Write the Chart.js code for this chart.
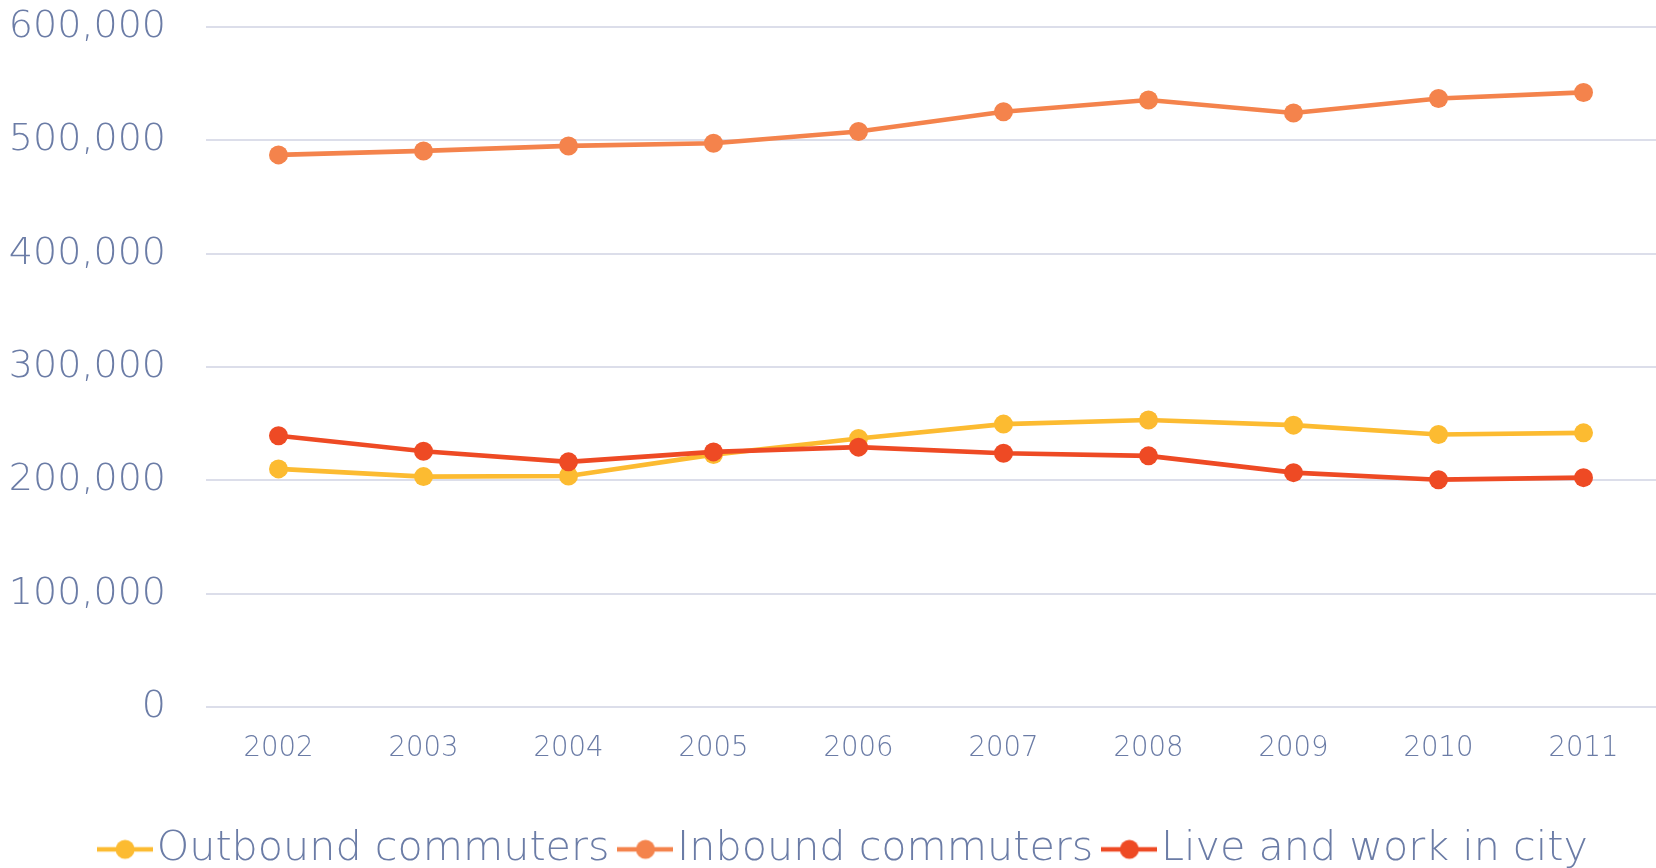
<!DOCTYPE html>
<html>
<head>
<meta charset="utf-8">
<script src="https://cdn.jsdelivr.net/npm/chart.js@4.4.1/dist/chart.umd.min.js"></script>
<style>
  html, body { margin: 0; padding: 0; background: #fff; overflow: hidden; }
  #wrap { width: 1656px; height: 880px; position: relative; }
</style>
</head>
<body>
<div id="wrap"><canvas id="chartId"></canvas></div>
<script>
// commuter counts per year

const years = ['2002', '2003', '2004', '2005', '2006', '2007', '2008', '2009', '2010', '2011'];
const outbound = [210200, 203400, 204000, 222800, 237000, 249700, 253300, 248800, 240500, 242000];
const inbound = [487200, 490700, 495100, 497500, 507800, 525200, 535600, 524100, 537000, 542300];
const liveWork = [239400, 225800, 216400, 225200, 229400, 224000, 221700, 206900, 200700, 202500];
const seriesNames = ['Outbound commuters', 'Inbound commuters', 'Live and work in city'];
const seriesColors = ['#fcbb31', '#f4834c', '#ee4a24'];

const textColor = '#6b7ca6';
const fontFamily = '"DejaVu Sans", sans-serif';

// legend marker: short line with a dot on it
function makeMarker(color) {
  const c = document.createElement('canvas');
  c.width = 56;
  c.height = 22;
  const g = c.getContext('2d');
  g.strokeStyle = color;
  g.lineWidth = 4.5;
  g.beginPath();
  g.moveTo(0, 11);
  g.lineTo(56, 11);
  g.stroke();
  g.fillStyle = color;
  g.beginPath();
  g.arc(28, 11, 9.5, 0, Math.PI * 2);
  g.fill();
  return c;
}
const markers = seriesColors.map(makeMarker);

function lineSet(i, values, order) {
  return {
    label: seriesNames[i],
    data: values,
    borderColor: seriesColors[i],
    backgroundColor: seriesColors[i],
    borderWidth: 4.6,
    pointRadius: 9.5,
    pointHoverRadius: 9.5,
    pointBorderWidth: 0,
    tension: 0,
    order: order
  };
}

// legend sits a little right of centre in the original
const legendShift = {
  id: 'legendShift',
  afterLayout(chart) {
    chart.legend.left += 23;
    chart.legend.right += 23;
  }
};

var chrt = document.getElementById('chartId').getContext('2d');
var chartId = new Chart(chrt, {
  type: 'line',
  data: {
    labels: years,
    datasets: [
      lineSet(0, outbound, 2),
      lineSet(1, inbound, 1),
      lineSet(2, liveWork, 0)
    ]
  },
  plugins: [legendShift],
  options: {
    responsive: true,
    maintainAspectRatio: false,
    animation: false,
    layout: { padding: 0, autoPadding: false },
    scales: {
      x: {
        offset: true,
        grid: { display: false, drawTicks: false, offset: true },
        border: { display: false },
        ticks: {
          color: textColor,
          font: { family: fontFamily, size: 27.5, weight: 200 },
          padding: 25
        },
        afterFit: s => {
          s.height += 13.5;
          s.paddingLeft = 0;
          s.paddingRight = 0;
        }
      },
      y: {
        min: 0,
        max: 600000,
        grid: { color: '#dcdeea', lineWidth: 2, drawTicks: false },
        border: { display: false },
        ticks: {
          stepSize: 100000,
          color: textColor,
          font: { family: fontFamily, size: 38, weight: 200 },
          padding: 40
        },
        afterFit: s => {
          s.width = 206;
          s.paddingTop = 27;
          s.paddingBottom = 0;
        }
      }
    },
    plugins: {
      tooltip: { enabled: false },
      legend: {
        position: 'bottom',
        labels: {
          color: textColor,
          font: { family: fontFamily, size: 41.3, weight: 200 },
          usePointStyle: true,
          pointStyleWidth: 22,
          boxHeight: 20,
          padding: 25,
          sort: (a, b) => a.datasetIndex - b.datasetIndex,
          generateLabels: chart => {
            const items = Chart.defaults.plugins.legend.labels.generateLabels(chart);
            items.forEach(it => { it.pointStyle = markers[it.datasetIndex]; });
            return items;
          }
        }
      }
    }
  }
});
</script>
</body>
</html>
